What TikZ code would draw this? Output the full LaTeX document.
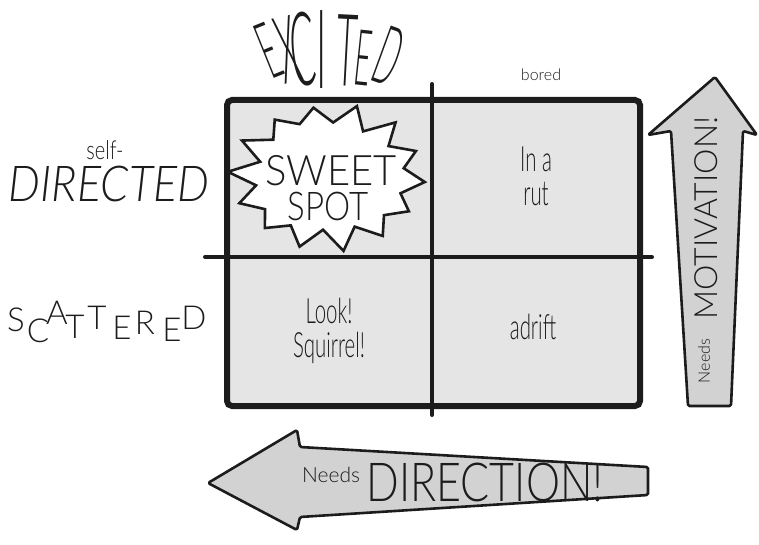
\documentclass[tikz,border=0pt]{standalone}
\usepackage{fontspec}
\IfFontExistsTF{Lato Light}{\setmainfont{Lato Light}}{\setmainfont{Lato}}
\usetikzlibrary{calc}
\definecolor{ink}{HTML}{1C1C1C}
\definecolor{cell}{HTML}{E5E5E5}
\definecolor{shaft}{HTML}{D2D2D2}

\begin{document}
\begin{tikzpicture}[x=1pt,y=-1pt,text=ink,
 font=\fontsize{18}{20}\selectfont,
 hand/.style={font=\fontsize{24}{23.5}\selectfont,align=center,inner sep=0pt,xscale=.85,yscale=1.45},
 small/.style={font=\fontsize{16}{18}\selectfont,inner sep=0pt},
 scribble/.style={font=\fontsize{33}{35}\selectfont,inner sep=0pt},
 excite/.style={font=\fontsize{108}{108}\selectfont,inner sep=0pt},
 frame/.style={draw=ink,line width=6pt,rounded corners=5pt},
 divider/.style={draw=ink,line width=4pt,line cap=round},
 burst/.style={draw=ink,fill=white,line width=2.6pt,line join=miter},
 bigarrow/.style={draw=ink,fill=shaft,line width=2.6pt,line join=round,rounded corners=1.5pt}]
\path[use as bounding box] (0,0) rectangle (759,545);
% the grid
\fill[cell] (227,100) rectangle (640,406);
\draw[divider] (432,84) -- (432,415);
\draw[divider] (205,257) -- (652,257);
\draw[frame] (227,100) rectangle (640,406);
% top axis label
\foreach \ch/\px/\py/\ang/\s [count=\k] in {E/269/51/22/.73,X/288/50/12/.87,C/303/49/5/.95,
 I/322/50/0/1.02,T/347/51/-3/.93,E/363/58/-6/.72,D/389/56/-20/.76}
 \node[excite,rotate=\ang,scale=\s] (exc\k) at (\px,\py) {\scalebox{.36}[1]{\ch}};
\node[small] (bored) at (541,75) {bored};
% left axis labels
\node[font=\fontsize{20}{22}\selectfont,inner sep=0pt,yscale=1.3] (self) at (105,150) {self-};
\node[font=\itshape\fontsize{45}{47}\selectfont,inner sep=0pt,yscale=1.1] (dirtd) at (109,184) {DIRECTED};
\foreach \ch/\px/\py [count=\k] in {S/16/320,C/38/331,A/57/313,T/75/327,T/97/318,
 E/122/328,R/145/323,E/172/330,D/194/318}
 \node[scribble] (scat\k) at (\px,\py) {\ch};
% sweet spot
\draw[burst] plot[samples at={0,...,27}]
 ({328+97*(iseven(\x)?1:.76)*(1+.04*sin(\x*137))*cos(\x*360/28+4)},
  {177+72*(iseven(\x)?1:.76)*(1+.04*sin(\x*137))*sin(\x*360/28+4)}) -- cycle;
\node[font=\fontsize{40}{42}\selectfont,inner sep=0pt,yscale=1.05] (sweet) at (331,171) {SWEET};
\node[font=\fontsize{33}{35}\selectfont,inner sep=0pt,yscale=1.2] (spot) at (328,206) {SPOT};
% other quadrants
\node[hand] (rut) at (536,176) {In a\\rut};
\node[hand] (look) at (329,331) {Look!\\Squirrel!};
\node[hand] (adrift) at (533,327) {adrift};
% arrows
\draw[bigarrow] (715,77) -- (757,135) -- (743,131) -- (731,406) -- (688,406)
 -- (671,131) -- (648,135) -- cycle;
\node[font=\fontsize{32}{34}\selectfont,inner sep=0pt,rotate=90] (motiv) at (706,218) {MOTIVATION!};
\node[font=\fontsize{16}{18}\selectfont,inner sep=0pt,rotate=90] (motivneeds) at (704,361) {Needs};
\draw[bigarrow] (208,483) -- (297,430) -- (300,447) -- (648,467) -- (648,495)
 -- (300,517) -- (297,530) -- cycle;
\node[font=\fontsize{21}{23}\selectfont,inner sep=0pt] (directneeds) at (331,475) {Needs};
\node[font=\fontsize{43}{45}\selectfont,inner sep=0pt,yscale=1.25] (direct) at (485,482) {DIRECTION!};
\end{tikzpicture}
\end{document}
